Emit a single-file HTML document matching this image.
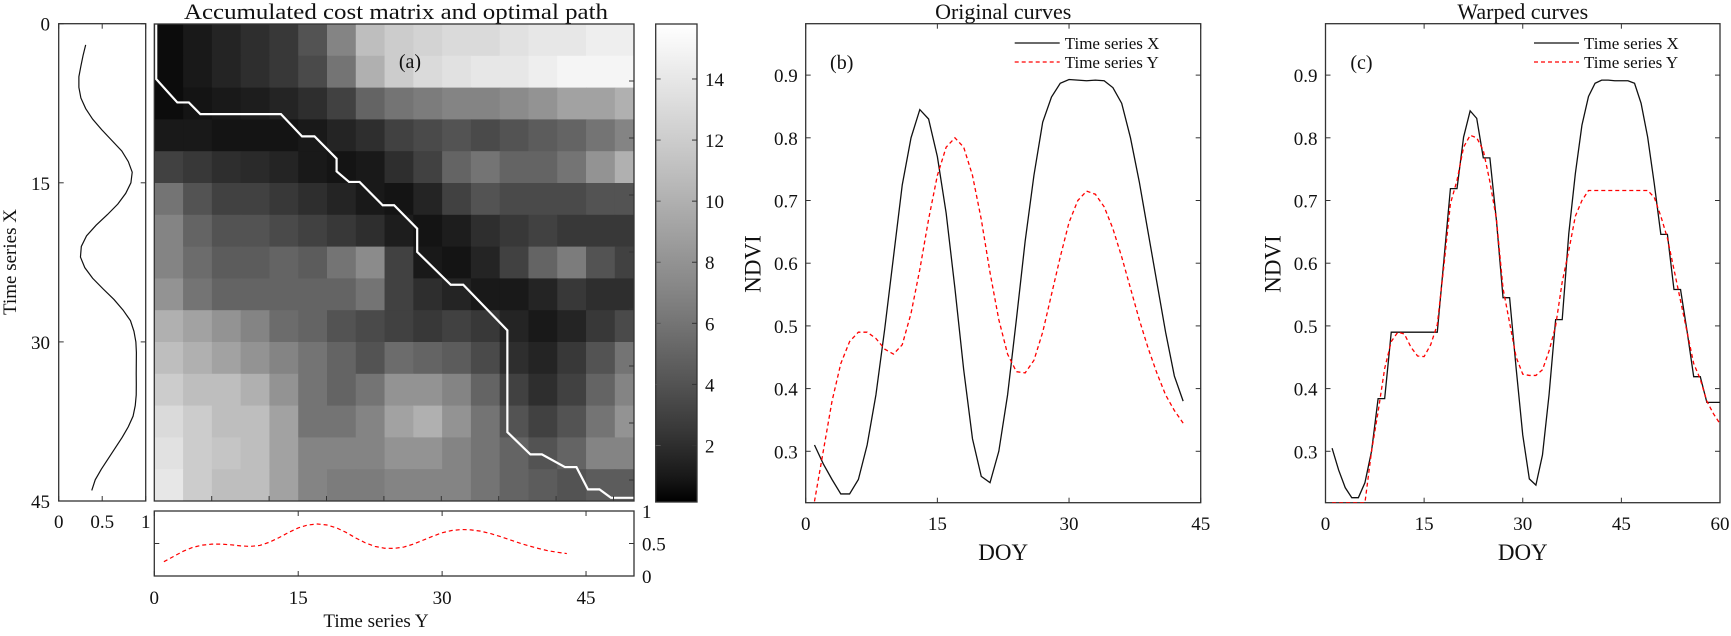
<!DOCTYPE html>
<html><head><meta charset="utf-8"><style>
body{margin:0;background:#fff}
svg text{font-family:"Liberation Serif","Times New Roman",serif;fill:#111}
</style></head><body>
<svg id="fig" width="1731" height="631" viewBox="0 0 1731 631" xmlns="http://www.w3.org/2000/svg">
<defs>
<clipPath id="hmClip"><rect x="154.3" y="24" width="479.7" height="477"/></clipPath>
<clipPath id="bClip"><rect x="805.7" y="23.7" width="395" height="479"/></clipPath>
<clipPath id="cClip"><rect x="1325.5" y="23.7" width="394.5" height="479"/></clipPath>
<linearGradient id="cbGrad" x1="0" y1="1" x2="0" y2="0"></linearGradient>
</defs>
<g id="root"></g>
</svg>
<script>
// ---------- data ----------
const seriesX = [0.31,0.28,0.255,0.232,0.232,0.255,0.31,0.39,0.495,0.61,0.725,0.80,0.845,0.83,0.77,0.68,0.56,0.43,0.32,0.26,0.25,0.30,0.39,0.51,0.635,0.74,0.825,0.865,0.887,0.893,0.892,0.891,0.892,0.891,0.88,0.855,0.80,0.73,0.65,0.57,0.49,0.42,0.38];
const seriesY = [0.22,0.30,0.38,0.44,0.475,0.49,0.49,0.48,0.463,0.455,0.47,0.52,0.59,0.67,0.74,0.785,0.80,0.785,0.74,0.67,0.585,0.51,0.455,0.427,0.425,0.445,0.49,0.55,0.61,0.665,0.70,0.715,0.71,0.69,0.655,0.61,0.56,0.51,0.465,0.425,0.39,0.365,0.345];
const warpedX = [0.305,0.27,0.242,0.226,0.226,0.25,0.30,0.384,0.384,0.49,0.49,0.49,0.49,0.49,0.49,0.49,0.49,0.604,0.719,0.719,0.801,0.843,0.831,0.768,0.768,0.668,0.545,0.545,0.432,0.326,0.256,0.246,0.294,0.39,0.51,0.51,0.647,0.743,0.82,0.866,0.887,0.892,0.892,0.891,0.891,0.891,0.887,0.855,0.801,0.727,0.646,0.646,0.558,0.558,0.491,0.419,0.419,0.378,0.378,0.378];
const warpedY = [0.218,0.218,0.218,0.218,0.218,0.218,0.30,0.363,0.432,0.475,0.49,0.487,0.466,0.452,0.451,0.47,0.502,0.595,0.695,0.732,0.785,0.804,0.80,0.78,0.73,0.67,0.56,0.505,0.45,0.423,0.421,0.421,0.43,0.46,0.50,0.57,0.62,0.675,0.70,0.716,0.716,0.716,0.716,0.716,0.716,0.716,0.716,0.716,0.716,0.705,0.675,0.64,0.59,0.54,0.49,0.44,0.415,0.38,0.36,0.344];
// accumulated cost matrix, coarse 3x3-unit blocks: rows = Time series X (0..45), cols = Time series Y (0..51)
const costRows = [
[0.5,1,1.5,2,2.5,4,7,11,12,12.5,13,13,13.5,14,14,14.5,14.5],
[0.5,1,1.5,2,2.5,3.5,6,10,12,13,13.5,14,14,14.5,15,15,15],
[0.5,0.8,1,1.2,1.5,2,3,5,6,6.5,7,7,7.5,8,9,9,10],
[1,1,0.8,0.8,0.8,1,1.5,2,3,3.5,4,3.5,4,4.5,5,6,7],
[3,2.5,2,1.8,1.5,1,0.8,1,2,3,5,6,5,5,6,8,10],
[6,4,3,3,2.5,2,1.5,1,0.8,1.5,3,4,3.5,3.5,3.5,4,4],
[7,5,4,4,3.5,3,2.5,2,1.2,0.8,1.2,2,2.5,3,2.5,2.5,2.5],
[7,5.5,4.5,4.5,5,4.5,6,7.5,3,1,0.8,1.5,3,5,6.5,4,3],
[8,6,5,5,5,5,5,6,3,2,1.5,1,1,1.5,2.5,2,2],
[10,9,8,7,5.5,5,4,3.5,3,2.5,3,2.5,1.5,1,1.5,2.5,3.5],
[11,10,9,8,7,6,5,4,5.5,5,4.5,3.5,2,1.5,2.5,4,6],
[12,11,11,10,8,6,5,6,8,8,7,5,3,2,3,5,7],
[13,12,11,11,9,6,6,7,9,10,8,6,4,3,4,6,8],
[13.5,12,11.5,11,9,7,7,7,8,8,7,6,5,4,5,7,7],
[14,12,11,11,9,7,6.5,6.5,7,7,7,6,5,4.5,4,4.5,4.5]];
const pathCol = [0.2,0.2,1.4,2.4,3.6,4.8,13.2,15.4,16.7,19,19,20.3,21.4,23.8,25,27.4,27.4,30.9,32.2,36.8,36.8,39.2,40.4,42.8,44,45.2,46.4,47.6,50];
const pathRow = [0,5.2,6.4,7.4,7.4,8.5,8.5,10.6,10.6,12.7,13.9,14.9,14.9,17.1,17.1,19.3,21.5,24.6,24.6,28.9,38.5,40.6,40.6,41.8,41.8,43.9,43.9,44.7,44.7];
const cbTicks = [2,4,6,8,10,12,14];
const ndviTicks = [0.3,0.4,0.5,0.6,0.7,0.8,0.9];
const doyTicksB = [0,15,30,45];
const doyTicksC = [0,15,30,45,60];
const indexTicks = [0,15,30,45];
const unitTicks = [0,0.5,1];

// ---------- helpers ----------
const NS='http://www.w3.org/2000/svg';
const root=document.getElementById('root');
function mk(tag,attrs,parent){const e=document.createElementNS(NS,tag);for(const k in attrs)e.setAttribute(k,attrs[k]);(parent||root).appendChild(e);return e;}
function txt(s,x,y,size,anchor,parent,extra){const e=mk('text',Object.assign({x:x,y:y,'font-size':size,'text-anchor':anchor||'middle'},extra||{}),parent);e.textContent=s;return e;}
function lin(d0,d1,r0,r1){return v=>r0+(v-d0)/(d1-d0)*(r1-r0);}
function box(x,y,w,h,parent){return mk('rect',{x:x,y:y,width:w,height:h,fill:'none',stroke:'#333','stroke-width':1.3},parent);}
function poly(xs,ys,sx,sy,attrs,parent){let d='';for(let i=0;i<xs.length;i++)d+=(i?'L':'M')+sx(xs[i]).toFixed(2)+','+sy(ys[i]).toFixed(2);return mk('path',Object.assign({d:d,fill:'none'},attrs),parent);}
const idx=a=>a.map((_,i)=>i+1);
const cmin=0.15,cmax=15.8,GAMMA=0.8;
function grayOf(v){const t=Math.max(0,Math.min(1,(v-cmin)/(cmax-cmin)));return Math.round(Math.pow(t,GAMMA)*255);}
const grad=document.getElementById('cbGrad');
for(let i=0;i<=20;i++){const t=i/20;const g=Math.round(Math.pow(t,GAMMA)*255);mk('stop',{offset:t,'stop-color':`rgb(${g},${g},${g})`},grad);}

// ---------- left plot: Time series X ----------
const gL=mk('g',{});


const lx=lin(0,1,58.7,145.7), ly=lin(0,45,23.7,501);
box(58.7,23.7,87,477.3,gL);
indexTicks.forEach(t=>{const y=ly(t);mk('line',{x1:58.7,y1:y,x2:63.7,y2:y,stroke:'#333'},gL);mk('line',{x1:145.7,y1:y,x2:140.7,y2:y,stroke:'#333'},gL);
 const l=txt(String(t),50,y+7,19,'end',gL);});
unitTicks.forEach(t=>{const x=lx(t);mk('line',{x1:x,y1:23.7,x2:x,y2:28.7,stroke:'#333'},gL);mk('line',{x1:x,y1:501,x2:x,y2:496,stroke:'#333'},gL);
 const l=txt(String(t),x,528,19,'middle',gL);});
const lineL=poly(seriesX.map(v=>v),idx(seriesX).map(i=>i+1),lx,ly,{stroke:'#111','stroke-width':1.2},gL);


const ylabL=txt('Time series X',0,0,19,'middle',gL,{transform:'translate(16,262) rotate(-90)'});



// ---------- heatmap ----------
const gH=mk('g',{});


const hx=lin(0,50,154.3,634), hy=lin(0,45,24,501);
const cells=mk('g',{'clip-path':'url(#hmClip)'},gH);
costRows.forEach((row,r)=>row.forEach((v,c)=>{
 const g=grayOf(v);
 const cell=mk('rect',{x:hx(c*3),y:hy(r*3),width:hx(3)-hx(0)+0.6,height:hy(3)-hy(0)+0.6,fill:`rgb(${g},${g},${g})`},cells);
 
 
}));
const pathL=poly(pathCol,pathRow,hx,hy,{stroke:'#fff','stroke-width':2.2,'clip-path':'url(#hmClip)'},gH);


box(154.3,24,479.7,477,gH);
for(let k=1;k<=8;k++){const x=154.3+k*57.4;mk('line',{x1:x,y1:501,x2:x,y2:496,stroke:'#333'},gH);const y=24+k*57;mk('line',{x1:634,y1:y,x2:629,y2:y,stroke:'#333'},gH);}
const tA=txt('Accumulated cost matrix and optimal path',396,19,22,'middle',gH,{textLength:424,lengthAdjust:'spacingAndGlyphs'});


const la=txt('(a)',410,68,20,'middle',gH);



// ---------- colorbar ----------
const gC=mk('g',{});


mk('rect',{x:655.7,y:24,width:41.3,height:478,fill:'url(#cbGrad)'},gC);
box(655.7,24,41.3,478,gC);
const cy=lin(cmin,cmax,502,24);
cbTicks.forEach(t=>{const y=cy(t);mk('line',{x1:697,y1:y,x2:692,y2:y,stroke:'#333'},gC);mk('line',{x1:655.7,y1:y,x2:660.7,y2:y,stroke:'#555'},gC);
 const l=txt(String(t),705,y+7,19,'start',gC);});

// ---------- bottom plot: Time series Y ----------
const gB=mk('g',{});


const bx=lin(0,50,154.3,634), by=lin(0,1,576,511);
box(154.3,511,479.7,65,gB);
indexTicks.forEach(t=>{const x=bx(t);mk('line',{x1:x,y1:511,x2:x,y2:516,stroke:'#333'},gB);mk('line',{x1:x,y1:576,x2:x,y2:571,stroke:'#333'},gB);
 const l=txt(String(t),x,604,19,'middle',gB);});
unitTicks.forEach(t=>{const y=by(t);mk('line',{x1:634,y1:y,x2:629,y2:y,stroke:'#333'},gB);mk('line',{x1:154.3,y1:y,x2:159.3,y2:y,stroke:'#333'},gB);
 const l=txt(String(t),642,y+7,19,'start',gB);});
const lineB=poly(idx(seriesY),seriesY,bx,by,{stroke:'#f00','stroke-width':1.2,'stroke-dasharray':'4,3'},gB);


const xlabB=txt('Time series Y',376,627,19,'middle',gB);



// ---------- line panels ----------
function panel(name,x0,x1,xmax,xticks,title,label,clip,xsX,ysX,xsY,ysY){
 const g=mk('g',{});
 
 
 const sx=lin(0,xmax,x0,x1), sy=lin(0.218,0.982,502.7,23.7);
 box(x0,23.7,x1-x0,479,g);
 ndviTicks.forEach(t=>{const y=sy(t);mk('line',{x1:x0,y1:y,x2:x0+5,y2:y,stroke:'#333'},g);mk('line',{x1:x1,y1:y,x2:x1-5,y2:y,stroke:'#333'},g);
  const l=txt(t.toFixed(1),x0-8,y+7,19,'end',g);});
 xticks.forEach(t=>{const x=sx(t);mk('line',{x1:x,y1:502.7,x2:x,y2:497.7,stroke:'#333'},g);mk('line',{x1:x,y1:23.7,x2:x,y2:28.7,stroke:'#333'},g);
  const l=txt(String(t),x,530,19,'middle',g);});
 const lx_=poly(xsX,ysX,sx,sy,{stroke:'#111','stroke-width':1.3,'clip-path':`url(#${clip})`},g);
 
 
 const ly_=poly(xsY,ysY,sx,sy,{stroke:'#f00','stroke-width':1.3,'stroke-dasharray':'4,3','clip-path':`url(#${clip})`},g);
 
 
 const cx=(x0+x1)/2;
 const t=txt(title,cx,19,22,'middle',g);
 const pl=txt(label,x0+36,69,20,'middle',g);
 const xt=txt('DOY',cx,560,23,'middle',g);
 const yt=txt('NDVI',0,0,23,'middle',g,{transform:`translate(${x0-45},264) rotate(-90)`});
 const lg=mk('g',{},g);
 
 
 const lx0=x1-186;
 mk('line',{x1:lx0,y1:43,x2:lx0+45,y2:43,stroke:'#111','stroke-width':1.3},lg);
 mk('line',{x1:lx0,y1:62,x2:lx0+45,y2:62,stroke:'#f00','stroke-width':1.3,'stroke-dasharray':'4,3'},lg);
 const e1=txt('Time series X',lx0+50,49,17,'start',lg);
 const e2=txt('Time series Y',lx0+50,68,17,'start',lg);
}
panel('original-curves-panel',805.7,1200.7,45,doyTicksB,'Original curves','(b)','bClip',idx(seriesX),seriesX,idx(seriesY),seriesY);
panel('warped-curves-panel',1325.5,1720,60,doyTicksC,'Warped curves','(c)','cClip',idx(warpedX),warpedX,idx(warpedY),warpedY);
</script>
</body></html>
